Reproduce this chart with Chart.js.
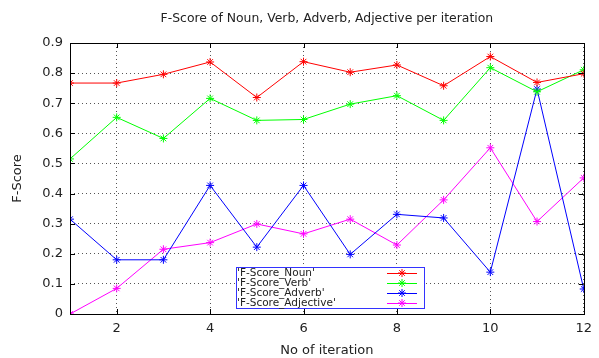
<!DOCTYPE html>
<html>
<head>
<meta charset="utf-8">
<script src="https://cdn.jsdelivr.net/npm/chart.js@4/dist/chart.umd.min.js"></script>
<style>
  html, body { margin: 0; padding: 0; background: #fff; }
  #wrap { width: 599px; height: 358px; }
</style>
</head>
<body>
<div id="wrap"><canvas id="chart" width="599" height="358"></canvas></div>
<script>
// Data
const iterations = [1, 2, 3, 4, 5, 6, 7, 8, 9, 10, 11, 12];
const nounScores = [0.767, 0.767, 0.796, 0.837, 0.719, 0.838, 0.803, 0.827, 0.758, 0.855, 0.769, 0.798];
const verbScores = [0.515, 0.653, 0.583, 0.716, 0.643, 0.646, 0.697, 0.725, 0.643, 0.818, 0.738, 0.811];
const adverbScores = [0.315, 0.180, 0.180, 0.427, 0.222, 0.427, 0.198, 0.331, 0.319, 0.139, 0.747, 0.083];
const adjectiveScores = [0.000, 0.085, 0.215, 0.237, 0.299, 0.266, 0.315, 0.229, 0.379, 0.552, 0.307, 0.452];
const seriesLabels = ["'F-Score_Noun'", "'F-Score_Verb'", "'F-Score_Adverb'", "'F-Score_Adjective'"];
const xTicks = [2, 4, 6, 8, 10, 12];
const yTicks = [0, 0.1, 0.2, 0.3, 0.4, 0.5, 0.6, 0.7, 0.8, 0.9];
const titleText = 'F-Score of Noun, Verb, Adverb, Adjective per iteration';

const FONT = '"DejaVu Sans", sans-serif';
const colors = ['#ff0000', '#00ff00', '#0000ff', '#ff00ff'];

function makeSet(label, values, color) {
    return {
        label: label,
        data: iterations.map((x, i) => ({ x: x, y: values[i] })),
        borderColor: color,
        backgroundColor: color,
        borderWidth: 1,
        pointStyle: 'star',
        pointRadius: 4,
        pointBorderWidth: 1,
        pointBorderColor: color,
        tension: 0
    };
}

// frame, title and boxed legend in the gnuplot style
const gnuplotBits = {
    id: 'gnuplotBits',
    afterDatasetsDraw(chart) {
        const ctx = chart.ctx;
        const a = chart.chartArea;
        ctx.save();
        ctx.strokeStyle = '#000';
        ctx.lineWidth = 1;
        ctx.setLineDash([]);
        ctx.strokeRect(Math.round(a.left) + 0.5, Math.round(a.top) + 0.5,
            Math.round(a.right - a.left), Math.round(a.bottom - a.top));

        // inward tick marks on all four sides
        const xs = chart.scales.x, ys = chart.scales.y;
        ctx.beginPath();
        xTicks.forEach(v => {
            const px = Math.round(xs.getPixelForValue(v)) + 0.5;
            ctx.moveTo(px, a.bottom); ctx.lineTo(px, a.bottom - 5);
            ctx.moveTo(px, a.top); ctx.lineTo(px, a.top + 5);
        });
        yTicks.forEach(v => {
            const py = Math.round(ys.getPixelForValue(v)) + 0.5;
            ctx.moveTo(a.left, py); ctx.lineTo(a.left + 5, py);
            ctx.moveTo(a.right, py); ctx.lineTo(a.right - 5, py);
        });
        ctx.stroke();

        // title
        ctx.fillStyle = '#222';
        ctx.font = '12.4px ' + FONT;
        ctx.textAlign = 'center';
        ctx.textBaseline = 'middle';
        ctx.fillText(titleText, (a.left + a.right) / 2, 19);

        // legend box
        const bx = 236, by = 267, bw = 188, bh = 41;
        ctx.fillStyle = '#fff';
        ctx.fillRect(bx, by, bw, bh);
        ctx.strokeStyle = '#3333ff';
        ctx.strokeRect(bx + 0.5, by + 0.5, bw, bh);
        ctx.font = '10.5px ' + FONT;
        ctx.textAlign = 'left';
        chart.data.datasets.forEach((ds, i) => {
            const ly = by + 6 + i * 10;
            ctx.fillStyle = '#222';
            ctx.fillText(ds.label, bx + 1, ly);
            ctx.strokeStyle = ds.borderColor;
            ctx.beginPath();
            ctx.moveTo(387, ly + 0.5); ctx.lineTo(417, ly + 0.5);
            ctx.stroke();
            const r = 4;
            ctx.beginPath();
            ctx.moveTo(402 - r, ly); ctx.lineTo(402 + r, ly);
            ctx.moveTo(402, ly - r); ctx.lineTo(402, ly + r);
            ctx.moveTo(402 - r * 0.7, ly - r * 0.7); ctx.lineTo(402 + r * 0.7, ly + r * 0.7);
            ctx.moveTo(402 - r * 0.7, ly + r * 0.7); ctx.lineTo(402 + r * 0.7, ly - r * 0.7);
            ctx.stroke();
        });
        ctx.restore();
    }
};

new Chart(document.getElementById('chart'), {
    type: 'line',
    data: {
        datasets: [
            makeSet(seriesLabels[0], nounScores, colors[0]),
            makeSet(seriesLabels[1], verbScores, colors[1]),
            makeSet(seriesLabels[2], adverbScores, colors[2]),
            makeSet(seriesLabels[3], adjectiveScores, colors[3])
        ]
    },
    options: {
        responsive: false,
        animation: false,
        layout: { padding: { top: 43, right: 8, left: 0, bottom: 0 } },
        plugins: {
            legend: { display: false },
            title: { display: false },
            tooltip: { enabled: false }
        },
        scales: {
            x: {
                type: 'linear',
                min: 1,
                max: 12,
                afterBuildTicks: s => { s.ticks = xTicks.map(v => ({ value: v })); },
                afterFit: s => { s.height = 44; },
                ticks: {
                    color: '#222',
                    font: { family: FONT, size: 13 },
                    padding: 7,
                    maxRotation: 0
                },
                grid: {
                    color: '#555',
                    lineWidth: 1,
                    drawTicks: false
                },
                border: { display: false, dash: [1, 3] },
                title: {
                    display: true,
                    text: 'No of iteration',
                    color: '#222',
                    font: { family: FONT, size: 13 },
                    padding: { top: 9, bottom: 0 }
                }
            },
            y: {
                min: 0,
                max: 0.9,
                afterBuildTicks: s => { s.ticks = yTicks.map(v => ({ value: v })); },
                afterFit: s => { s.width = 70; },
                ticks: {
                    color: '#222',
                    font: { family: FONT, size: 13 },
                    padding: 7,
                    callback: v => v === 0 ? '0' : v.toFixed(1)
                },
                grid: {
                    color: '#555',
                    lineWidth: 1,
                    drawTicks: false
                },
                border: { display: false, dash: [1, 3] },
                title: {
                    display: true,
                    text: 'F-Score',
                    color: '#222',
                    font: { family: FONT, size: 13 },
                    padding: { top: 10, bottom: 0 }
                }
            }
        }
    },
    plugins: [gnuplotBits]
});
</script>
</body>
</html>
